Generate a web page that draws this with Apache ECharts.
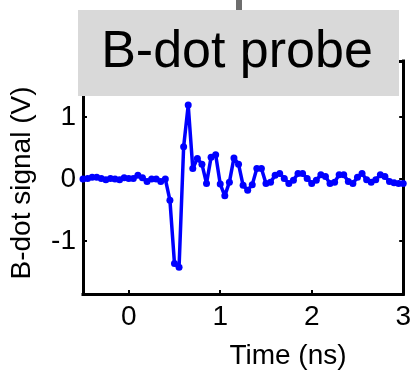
<!DOCTYPE html>
<html>
<head>
<meta charset="utf-8">
<script src="https://cdn.jsdelivr.net/npm/echarts@6/dist/echarts.min.js"></script>
<style>html,body{margin:0;padding:0;background:#fff;}#c{width:414px;height:372px;}</style>
</head>
<body>
<div id="c"></div>
<script>
var timeNs = [-0.50,-0.45,-0.40,-0.35,-0.30,-0.25,-0.20,-0.15,-0.10,-0.05,
  0.00,0.05,0.10,0.15,0.20,0.25,0.30,0.35,0.40,0.45,
  0.50,0.55,0.60,0.65,0.70,0.75,0.80,0.85,0.90,0.95,
  1.00,1.05,1.10,1.15,1.20,1.25,1.30,1.35,1.40,1.45,
  1.50,1.55,1.60,1.65,1.70,1.75,1.80,1.85,1.90,1.95,
  2.00,2.05,2.10,2.15,2.20,2.25,2.30,2.35,2.40,2.45,
  2.50,2.55,2.60,2.65,2.70,2.75,2.80,2.85,2.90,2.95,3.00];
var signalV = [0.00,0.01,0.03,0.03,0.01,-0.01,0.01,0.00,-0.01,0.02,
  0.01,0.01,0.06,0.02,-0.04,0.00,0.00,-0.04,0.00,-0.34,
  -1.36,-1.42,0.52,1.19,0.17,0.33,0.24,-0.07,0.35,0.39,
  -0.08,-0.27,-0.05,0.34,0.24,-0.10,-0.18,-0.09,0.17,0.17,
  -0.07,-0.05,0.06,0.09,0.01,-0.07,-0.02,0.09,0.09,0.01,
  -0.07,-0.02,0.07,0.04,-0.07,-0.05,0.07,0.07,-0.04,-0.07,
  0.03,0.09,-0.01,-0.05,-0.01,0.07,0.04,-0.04,-0.06,-0.07,-0.07];
var xTicks = [0,1,2,3];
var yTicks = [-1,0,1];
var titleText = 'B-dot probe';
var xName = 'Time (ns)';
var yName = 'B-dot signal (V)';

var data = timeNs.map(function(t,i){return [t, signalV[i]];});
var font = 'Liberation Sans, Arial, sans-serif';
var axisLine = {show:true, onZero:false, lineStyle:{color:'#000', width:3, cap:'square'}};

var chart = echarts.init(document.getElementById('c'), null, {renderer:'canvas'});
chart.setOption({
  animation:false,
  backgroundColor:'#fff',
  grid:{left:83, right:9, top:61, bottom:78, containLabel:false},
  xAxis:[{
    type:'value', min:-0.5, max:3, interval:0.5, position:'bottom',
    axisLine:axisLine,
    axisTick:{show:true, inside:true, length:4, lineStyle:{color:'#000', width:2},
      customValues: xTicks},
    axisLabel:{fontSize:28, color:'#000', fontFamily:font, margin:9,
      customValues: xTicks, formatter:function(v){return String(v);}},
    splitLine:{show:false}
  },{
    type:'value', min:-0.5, max:3, position:'top',
    axisLine:axisLine, axisTick:{show:false}, axisLabel:{show:false}, splitLine:{show:false}
  }],
  yAxis:[{
    type:'value', min:-1.85, max:1.9, position:'left',
    axisLine:axisLine,
    axisTick:{show:true, inside:true, length:4, lineStyle:{color:'#000', width:2},
      customValues: yTicks},
    axisLabel:{fontSize:28, color:'#000', fontFamily:font, margin:7,
      customValues: yTicks, formatter:function(v){return String(v);}},
    splitLine:{show:false}
  },{
    type:'value', min:-1.85, max:1.9, position:'right',
    axisLine:axisLine,
    axisTick:{show:true, inside:true, length:4, lineStyle:{color:'#000', width:2},
      customValues: yTicks},
    axisLabel:{show:false}, splitLine:{show:false}
  }],
  series:[{
    type:'line', data:data, xAxisIndex:0, yAxisIndex:0,
    lineStyle:{color:'#0000ff', width:3.5},
    itemStyle:{color:'#0000ff'},
    symbol:'circle', symbolSize:7, showSymbol:true, clip:false,
    z:3
  }],
  graphic:[
    {type:'rect', z:100, shape:{x:236, y:0, width:6, height:11}, style:{fill:'#6e6e6e'}},
    {type:'rect', z:100, shape:{x:78, y:10, width:321, height:86}, style:{fill:'#d9d9d9'}},
    {type:'text', z:101, x:237, y:53, style:{text:titleText, fontSize:52, fontFamily:font,
      fill:'#000', align:'center', verticalAlign:'middle'}},
    {type:'text', z:101, x:288, y:356, style:{text:xName, fontSize:28, fontFamily:font,
      fill:'#000', align:'center', verticalAlign:'middle'}},
    {type:'text', z:101, x:22, y:183, rotation:Math.PI/2, style:{text:yName, fontSize:28, fontFamily:font,
      fill:'#000', align:'center', verticalAlign:'middle'}}
  ]
});
</script>
</body>
</html>
